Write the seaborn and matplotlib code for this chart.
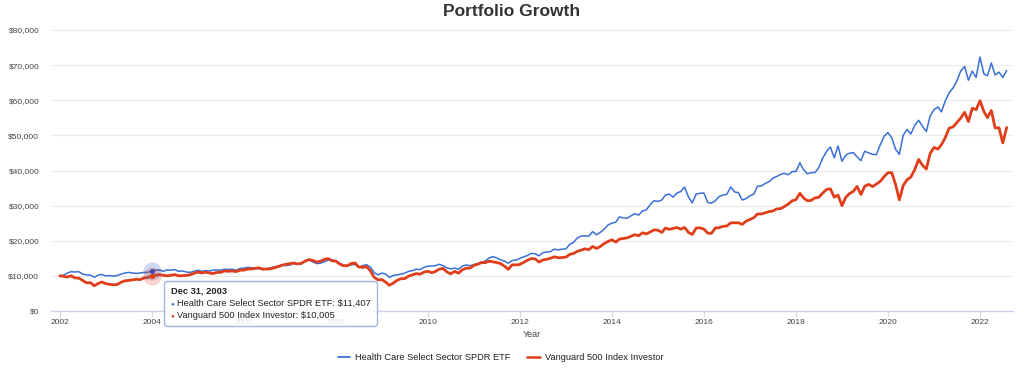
import pandas as pd
import numpy as np
import matplotlib.pyplot as plt
import matplotlib.dates as mdates
import matplotlib.ticker as mticker
from matplotlib.lines import Line2D
from matplotlib.offsetbox import TextArea, HPacker, VPacker, AnnotationBbox
import seaborn as sns

# monthly balances of a $10,000 start, month ends from Dec 2001 to Jul 2022
FIRST_MONTH = '2001-12-31'
hc_name = 'Health Care Select Sector SPDR ETF'
sp_name = 'Vanguard 500 Index Investor'

health_care = [
    10000,
    10200, 10800, 11200, 11100, 11200, 10500, 10300, 10200, 9600, 10200, 10400, 10000,   # 2002
    10100, 9900, 10100, 10500, 10800, 11000, 10800, 10700, 10800, 11000, 11000, 11407,   # 2003
    11600, 11700, 11300, 11700, 11600, 11800, 11300, 11400, 11100, 11000, 11300, 11600,  # 2004
    11300, 11500, 11400, 11600, 11700, 11600, 11900, 11800, 11900, 11600, 12100, 12200,  # 2005
    12400, 12300, 12200, 12000, 11800, 12000, 12300, 12600, 12800, 13100, 12900, 13100,  # 2006
    13500, 13300, 13400, 14100, 14500, 14000, 13500, 13600, 14000, 14500, 14600, 14300,  # 2007
    13600, 13000, 12900, 13100, 13300, 12400, 12900, 13200, 12500, 10900, 10300, 10800,  # 2008
    10500, 9600, 10100, 10300, 10500, 10800, 11300, 11500, 11900, 11800, 12400, 12800,   # 2009
    12800, 12900, 13300, 12900, 12300, 12000, 12200, 11900, 12800, 13100, 12900, 13200,  # 2010
    13500, 13900, 14200, 15100, 15500, 15100, 14600, 14200, 13600, 14400, 14500, 15000,  # 2011
    15400, 15800, 16400, 16300, 15700, 16600, 16800, 16900, 17600, 17400, 17600, 17700,  # 2012
    19000, 19500, 20800, 21300, 21400, 21300, 22600, 21700, 22400, 23300, 24500, 25000,  # 2013
    25300, 26800, 26500, 26400, 27100, 27700, 27300, 28500, 28800, 30300, 31400, 31200,  # 2014
    31600, 33000, 33300, 32400, 33600, 34000, 35300, 32400, 30800, 33300, 33500, 33600,  # 2015
    30900, 30700, 31400, 32600, 33000, 33200, 35300, 33900, 33700, 31600, 32000, 32800,  # 2016
    33300, 35500, 35600, 36300, 36800, 37800, 38300, 38900, 39200, 38800, 39700, 39700,  # 2017
    42200, 40300, 39100, 39400, 39400, 40800, 43500, 45400, 46700, 43600, 47000, 42600,  # 2018
    44400, 44900, 45100, 43900, 42800, 45500, 45000, 44600, 44500, 47300, 49700, 50800,  # 2019
    49300, 46100, 44600, 50000, 51700, 50400, 52900, 54300, 52600, 51100, 55500, 57300,  # 2020
    58100, 56700, 59900, 62100, 63500, 65500, 68300, 69600, 65700, 68300, 66500, 72300,  # 2021
    67500, 67000, 70600, 67200, 68000, 66500, 68500,                                     # 2022
]

sp500 = [
    10000,
    9860, 9670, 10030, 9420, 9360, 8690, 8020, 8070, 7190, 7820, 8270, 7790,             # 2002
    7590, 7470, 7540, 8160, 8590, 8700, 8850, 9020, 8930, 9430, 9510, 10005,             # 2003
    10190, 10330, 10180, 10020, 10160, 10360, 10020, 10050, 10160, 10310, 10730, 11090,  # 2004
    10830, 11050, 10860, 10660, 10990, 11000, 11420, 11300, 11400, 11220, 11620, 11630,  # 2005
    11950, 11980, 12130, 12300, 11930, 11950, 12030, 12310, 12630, 13050, 13280, 13470,  # 2006
    13680, 13400, 13560, 14160, 14650, 14400, 13960, 14170, 14700, 14930, 14300, 14190,  # 2007
    13360, 12920, 12870, 13510, 13670, 12530, 12420, 12610, 11470, 9560, 8860, 8940,     # 2008
    8200, 7310, 7950, 8720, 9200, 9210, 9920, 10280, 10660, 10470, 11100, 11310,         # 2009
    10910, 11240, 11920, 12120, 11130, 10560, 11300, 10770, 11740, 12190, 12190, 13000,  # 2010
    13310, 13760, 13770, 14190, 14010, 13790, 13500, 12760, 11860, 13160, 13120, 13260,  # 2011
    13850, 14450, 14920, 14840, 13930, 14510, 14720, 15040, 15430, 15150, 15220, 15350,  # 2012
    16150, 16360, 16980, 17320, 17700, 17460, 18360, 17810, 18370, 19220, 19790, 20280,  # 2013
    19600, 20470, 20640, 20810, 21280, 21720, 21430, 22260, 21950, 22500, 23090, 23020,  # 2014
    22350, 23620, 23240, 23480, 23760, 23300, 23800, 22350, 21790, 23630, 23680, 23310,  # 2015
    22170, 22110, 23620, 23710, 24120, 24190, 25100, 25100, 25110, 24670, 25560, 26070,  # 2016
    26570, 27610, 27640, 27930, 28300, 28470, 29070, 29140, 29740, 30440, 31360, 31710,  # 2017
    33510, 32230, 31390, 31490, 32190, 32370, 33560, 34610, 34780, 32390, 32990, 29980,  # 2018
    32390, 33400, 34050, 35460, 33170, 35520, 36040, 35440, 36110, 36910, 38220, 39380,  # 2019
    39370, 36110, 31640, 35700, 37370, 38110, 40270, 43150, 41520, 40420, 44840, 46560,  # 2020
    46090, 47350, 49420, 52060, 52410, 53640, 54910, 56570, 53940, 57720, 57310, 59870,  # 2021
    56790, 55060, 57090, 52130, 52180, 47850, 52260,                                     # 2022
]

hover_idx = 24  # Dec 31, 2003, the point under the tooltip

hc_color = '#3a70d6'
sp_color = '#e03e1a'

n = len(health_care)
months = pd.date_range(FIRST_MONTH, periods=n, freq='ME')
df = pd.DataFrame({
    'Date': np.concatenate([months, months]),
    'Balance': health_care + sp500,
    'Fund': [hc_name] * n + [sp_name] * n,
})

sns.set_theme(style='white')
plt.rcParams['font.family'] = ['Liberation Sans', 'DejaVu Sans']

fig = plt.figure(figsize=(10.24, 3.76), dpi=100)
ax = fig.add_axes([51 / 1024, 65 / 376, 962 / 1024, 281 / 376])

sns.lineplot(data=df, x='Date', y='Balance', hue='Fund', size='Fund',
             sizes={hc_name: 1.1, sp_name: 2.0},
             palette={hc_name: hc_color, sp_name: sp_color},
             ax=ax, legend=False)

ax.set_ylim(0, 80000)
ax.set_xlim(pd.Timestamp('2001-10-22'), pd.Timestamp('2022-09-19'))
ax.yaxis.set_major_locator(mticker.MultipleLocator(10000))
ax.yaxis.set_major_formatter(mticker.StrMethodFormatter('${x:,.0f}'))
ax.xaxis.set_major_locator(mdates.YearLocator(2))
ax.xaxis.set_major_formatter(mdates.DateFormatter('%Y'))

ax.grid(False)
ax.yaxis.grid(True, color='#ebebeb', lw=0.8)
for side in ['left', 'right', 'top']:
    ax.spines[side].set_visible(False)
ax.spines['bottom'].set_color('#cdd3ec')
ax.spines['bottom'].set_linewidth(1.0)

ax.tick_params(axis='y', length=0, pad=8.5, labelsize=6, labelcolor='#444444')
ax.tick_params(axis='x', length=4, width=0.8, color='#dadada', pad=1.5,
               labelsize=6, labelcolor='#444444', bottom=True)
ax.set_xlabel('Year', fontsize=6.5, color='#444444', labelpad=3)
ax.set_ylabel('')

fig.text(0.5, 1 - 11 / 376, 'Portfolio Growth', ha='center', va='center',
         fontsize=12.5, fontweight='bold', color='#333333')

# hovered point
hx = months[hover_idx]
ax.scatter([hx], [health_care[hover_idx]], s=170, color=hc_color, alpha=0.25, lw=0, zorder=5)
ax.scatter([hx], [sp500[hover_idx]], s=170, color=sp_color, alpha=0.22, lw=0, zorder=5)
ax.scatter([hx], [health_care[hover_idx]], s=14, color='#4a4aa8', lw=0, zorder=6)
ax.scatter([hx], [sp500[hover_idx]], s=14, color=sp_color, lw=0, zorder=6)

tip_font = dict(fontsize=6.7, color='#222222')
rows = [TextArea(hx.strftime('%b %d, %Y'), textprops=dict(fontweight='bold', **tip_font))]
for color, name, vals in [(hc_color, hc_name, health_care), (sp_color, sp_name, sp500)]:
    rows.append(HPacker(children=[
        TextArea('\u25cf', textprops=dict(fontsize=4.5, color=color)),
        TextArea(f'{name}: ${vals[hover_idx]:,}', textprops=tip_font),
    ], sep=2, pad=0, align='center'))
tip = VPacker(children=rows, sep=2.2, pad=4.5, align='left')
ab = AnnotationBbox(tip, (hx, health_care[hover_idx]), xybox=(9, -7),
                    xycoords='data', boxcoords='offset points', box_alignment=(0, 1),
                    pad=0, frameon=True, annotation_clip=False,
                    bboxprops=dict(boxstyle='round,pad=0,rounding_size=0.2', fc='white',
                                   ec='#93a9d8', lw=1.0, alpha=0.86))
ab.set_zorder(10)
ax.add_artist(ab)

handles = [Line2D([], [], color=hc_color, lw=1.3), Line2D([], [], color=sp_color, lw=1.8)]
leg = fig.legend(handles, [hc_name, sp_name], loc='center', bbox_to_anchor=(0.489, 1 - 358 / 376),
                 ncol=2, frameon=False, fontsize=6.7, handlelength=1.3, handletextpad=0.55,
                 columnspacing=1.8)
for t in leg.get_texts():
    t.set_color('#222222')

fig.savefig('out.png', dpi=100)
